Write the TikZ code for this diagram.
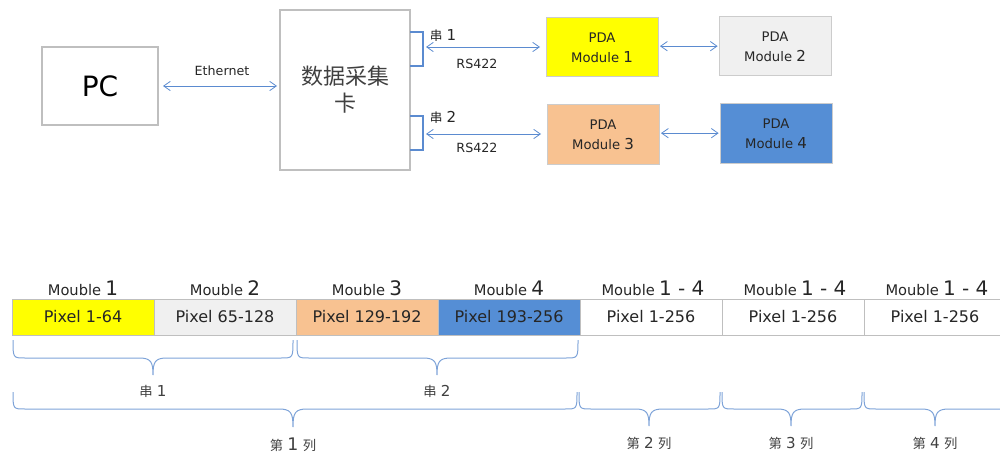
\documentclass[tikz,border=0pt]{standalone}
\usepackage{fontspec}
\setmainfont{DejaVu Sans}
\newfontfamily\cjk{Noto Sans CJK SC}
\usetikzlibrary{arrows.meta}
\definecolor{boxgray}{HTML}{BFBFBF}
\definecolor{linkblue}{HTML}{5B8BD0}
\definecolor{bracecol}{HTML}{7EA3D8}
\definecolor{mYellow}{HTML}{FFFF00}
\definecolor{mGray}{HTML}{F0F0F0}
\definecolor{mPeach}{HTML}{F8C291}
\definecolor{mBlue}{HTML}{558ED5}
\definecolor{txt}{HTML}{262626}
\definecolor{txtgray}{HTML}{404040}
\newcommand{\cbr}[6]{%
  \draw[bracestyle] (#1,#4) .. controls (#1,#5) .. (#1+12,#5) -- (#3-14,#5)
    .. controls (#3-2,#5) and (#3,#5+4) .. (#3,#6) .. controls (#3,#5+4) and (#3+2,#5) .. (#3+14,#5)
    -- (#2-12,#5) .. controls (#2,#5) .. (#2,#4);}
\newcommand{\dig}[1]{{\fontsize{11.3}{13}\selectfont #1}}
\newcommand{\mlab}[1]{{\fontsize{11}{13}\selectfont Mouble} {\fontsize{15}{17}\selectfont #1}}
\begin{document}
\begin{tikzpicture}[x=0.75pt,y=-0.75pt,
  bigbox/.style={draw=boxgray, line width=1.5pt, inner sep=0pt, outer sep=0pt, text=txt},
  modbox/.style={draw=boxgray!80, line width=0.75pt, minimum width=84pt, minimum height=44.25pt,
    inner sep=0pt, outer sep=0pt, align=center, font=\fontsize{9.9}{15}\selectfont, text=txt},
  cell/.style={draw=boxgray, line width=0.75pt, minimum width=106.5pt, minimum height=27pt,
    inner sep=0pt, outer sep=0pt, font=\fontsize{12}{14}\selectfont, text=txt},
  link/.style={draw=linkblue, line width=0.6pt,
    {Straight Barb[length=5pt,width=7pt]}-{Straight Barb[length=5pt,width=7pt]}},
  bracket/.style={draw=linkblue, line width=1.5pt},
  bracestyle/.style={draw=bracecol, line width=0.75pt},
  small/.style={font=\fontsize{9.5}{11}\selectfont, text=txt},
  modlbl/.style={anchor=base, text=txt, inner sep=0pt},
  brlbl/.style={text=txtgray, font=\fontsize{10}{12}\selectfont}]
\useasboundingbox (0,0) rectangle (1000,453);

% top part
\node[bigbox, minimum width=87pt, minimum height=58.5pt, text=black, font=\fontsize{21}{24}\selectfont] (pc) at (100,86) {PC};
\node[bigbox, minimum width=97.5pt, minimum height=120pt, align=center,
  font=\cjk\fontsize{16.5}{17.25}\selectfont, text=txtgray] (daq) at (345,90) {数据采集\\[3pt]卡};

\draw[link, shorten <=3.75pt, shorten >=2.25pt] (pc.east) -- (pc.east -| daq.west);
\node[small] (eth) at (222,71) {Ethernet};

\draw[bracket] (410,32) -- (423,32) -- (423,66) -- (410,66);
\draw[bracket] (410,116) -- (423,116) -- (423,150) -- (410,150);
\coordinate (p1) at (423,47);
\coordinate (p2) at (423,134);

\node[modbox, fill=mYellow] (m1) at (602,47.5) {PDA\\Module \dig{1}};
\node[modbox, fill=mGray]   (m2) at (775,46.5) {PDA\\Module \dig{2}};
\node[modbox, fill=mPeach]  (m3) at (603,134.5) {PDA\\Module \dig{3}};
\node[modbox, fill=mBlue]   (m4) at (776,133.5) {PDA\\Module \dig{4}};

\draw[link, shorten <=2.25pt, shorten >=4.5pt] (p1) -- (p1 -| m1.west);
\draw[link, shorten <=2.25pt, shorten >=4.5pt] (p2) -- (p2 -| m3.west);
\draw[link, shorten <=1.5pt, shorten >=1pt] ([yshift=1pt]m1.east) -- ([yshift=1pt]m1.east -| m2.west);
\draw[link, shorten <=1.5pt, shorten >=1pt] ([yshift=1pt]m3.east) -- ([yshift=1pt]m3.east -| m4.west);

\node[small] (s1) at (443,36) {{\cjk 串} \dig{1}};
\node[small] (r1) at (477,64) {RS422};
\node[small] (s2) at (443,117) {{\cjk 串} \dig{2}};
\node[small] (r2) at (477,148) {RS422};

% bottom row
\node[cell, fill=mYellow] (c1) at (83,317) {Pixel 1-64};
\node[cell, fill=mGray]   (c2) at (225,317) {Pixel 65-128};
\node[cell, fill=mPeach]  (c3) at (367,317) {Pixel 129-192};
\node[cell, fill=mBlue]   (c4) at (509,317) {Pixel 193-256};
\node[cell, fill=white]   (c5) at (651,317) {Pixel 1-256};
\node[cell, fill=white]   (c6) at (793,317) {Pixel 1-256};
\node[cell, fill=white]   (c7) at (935,317) {Pixel 1-256};

\node[modlbl] (l1) at (83,295) {\mlab{1}};
\node[modlbl] (l2) at (225,295) {\mlab{2}};
\node[modlbl] (l3) at (367,295) {\mlab{3}};
\node[modlbl] (l4) at (509,295) {\mlab{4}};
\node[modlbl] (l5) at (653,295) {\mlab{1 - 4}};
\node[modlbl] (l6) at (795,295) {\mlab{1 - 4}};
\node[modlbl] (l7) at (937,295) {\mlab{1 - 4}};

% braces
\cbr{13}{293}{153}{340}{358}{375}
\cbr{297}{578}{437}{340}{358}{375}
\cbr{13}{577}{293}{392}{409}{427}
\cbr{579}{720}{649}{392}{409}{426}
\cbr{722}{862}{791}{392}{409}{426}
\cbr{864}{1012}{935}{392}{409}{426}

\node[brlbl] (b1) at (153,391) {{\cjk 串} \dig{1}};
\node[brlbl] (b2) at (437,391) {{\cjk 串} \dig{2}};
\node[brlbl] (k1) at (293,445) {{\cjk 第} {\fontsize{13}{14}\selectfont 1} {\cjk 列}};
\node[brlbl] (k2) at (649,443) {{\cjk 第} \dig{2} {\cjk 列}};
\node[brlbl] (k3) at (791,443) {{\cjk 第} \dig{3} {\cjk 列}};
\node[brlbl] (k4) at (935,443) {{\cjk 第} \dig{4} {\cjk 列}};
\end{tikzpicture}
\end{document}
